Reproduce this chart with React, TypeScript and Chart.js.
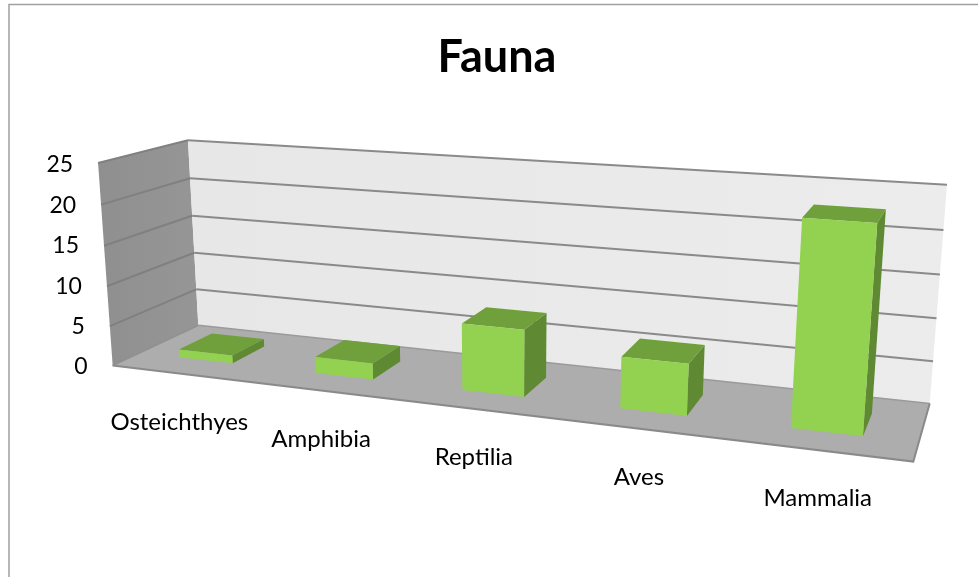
import React, { useEffect, useRef } from "react";
import { Chart, registerables, CategoryScale, LinearScale } from "chart.js";

const categories = ["Osteichthyes", "Amphibia", "Reptilia", "Aves", "Mammalia"];
const faunaValues = [1, 2, 8, 6, 23];
const yMax = 25;
const yStep = 5;
const seriesName = "Fauna";

// box corners of the 3D plot: [u, v, w] -> [x, y]
const corners: number[][] = [
  [0, 0, 0, 113, 366],
  [0, 0, 1, 98, 162],
  [0, 1, 0, 198, 325],
  [0, 1, 1, 188, 141],
  [1, 1, 0, 930, 403],
  [1, 1, 1, 947, 185],
  [1, 0, 0, 913, 462],
];
const BAR_V0 = 0.3;
const BAR_V1 = 0.7;

function solveCamera(): number[] {
  const A: number[][] = [];
  const b: number[] = [];
  for (const [X, Y, Z, x, y] of corners) {
    A.push([X, Y, Z, 1, 0, 0, 0, 0, -x * X, -x * Y, -x * Z]);
    b.push(x);
    A.push([0, 0, 0, 0, X, Y, Z, 1, -y * X, -y * Y, -y * Z]);
    b.push(y);
  }
  const n = 11;
  const M: number[][] = [];
  for (let i = 0; i < n; i++) {
    const row: number[] = [];
    for (let j = 0; j < n; j++) {
      let s = 0;
      for (let k = 0; k < A.length; k++) s += A[k][i] * A[k][j];
      row.push(s);
    }
    let r = 0;
    for (let k = 0; k < A.length; k++) r += A[k][i] * b[k];
    row.push(r);
    M.push(row);
  }
  for (let i = 0; i < n; i++) {
    let p = i;
    for (let r = i + 1; r < n; r++) if (Math.abs(M[r][i]) > Math.abs(M[p][i])) p = r;
    [M[i], M[p]] = [M[p], M[i]];
    for (let r = 0; r < n; r++) {
      if (r === i) continue;
      const f = M[r][i] / M[i][i];
      for (let c = i; c <= n; c++) M[r][c] -= f * M[i][c];
    }
  }
  return M.map((row, i) => row[n] / row[i]);
}
const cam = solveCamera();
function project(u: number, v: number, w: number): [number, number] {
  const d = cam[8] * u + cam[9] * v + cam[10] * w + 1;
  return [
    (cam[0] * u + cam[1] * v + cam[2] * w + cam[3]) / d,
    (cam[4] * u + cam[5] * v + cam[6] * w + cam[7]) / d,
  ];
}

function poly(ctx: CanvasRenderingContext2D, pts: [number, number][], fill?: string, stroke?: string, lw = 2) {
  ctx.beginPath();
  pts.forEach((p, i) => (i ? ctx.lineTo(p[0], p[1]) : ctx.moveTo(p[0], p[1])));
  if (fill) {
    ctx.closePath();
    ctx.fillStyle = fill;
    ctx.fill();
  }
  if (stroke) {
    ctx.strokeStyle = stroke;
    ctx.lineWidth = lw;
    ctx.stroke();
  }
}

class SlopedCategoryScale extends CategoryScale {
  static id = "sloped";
  static defaults = CategoryScale.defaults;
  _computeLabelArea() {
    return undefined;
  }
  _computeLabelItems(chartArea: any) {
    const items = super._computeLabelItems(chartArea);
    const n = items.length;
    items.forEach((it: any, i: number) => {
      const p = project((i + 0.5) / n, 0, 0);
      it.textOffset = 0;
      it.options.textAlign = "center";
      it.options.textBaseline = "middle";
      it.options.translation = [p[0] - 0.5, p[1] + 48.5];
    });
    return items;
  }
}

class SlopedLinearScale extends LinearScale {
  static id = "slopedLinear";
  static defaults = LinearScale.defaults;
  _computeLabelArea() {
    return undefined;
  }
  _computeLabelItems(chartArea: any) {
    const items = super._computeLabelItems(chartArea);
    items.forEach((it: any, i: number) => {
      const w = (this as any).ticks[i].value / (this as any).max;
      it.options.textAlign = "right";
      it.options.translation = [project(0, 0, w)[0] - 25, it.options.translation[1]];
    });
    return items;
  }
}

const scene3d = {
  id: "scene3d",
  beforeDraw(chart: any) {
    const { ctx, width, height } = chart;
    ctx.save();
    ctx.fillStyle = "#ffffff";
    ctx.fillRect(0, 0, width, height);
    ctx.strokeStyle = "#a0a0a0";
    ctx.lineWidth = 1.5;
    ctx.beginPath();
    ctx.moveTo(9, height);
    ctx.lineTo(9, 4.5);
    ctx.lineTo(width, 4.5);
    ctx.stroke();
    ctx.restore();
  },
  beforeDatasetsDraw(chart: any) {
    const { ctx, scales } = chart;
    const y = scales.y;
    ctx.save();
    const P = project;
    const wallGrad = ctx.createLinearGradient(98, 0, 198, 0);
    wallGrad.addColorStop(0, "#8f8f8f");
    wallGrad.addColorStop(1, "#969696");
    poly(ctx, [P(0, 0, 0), P(0, 0, 1), P(0, 1, 1), P(0, 1, 0)], wallGrad);
    const backGrad = ctx.createLinearGradient(188, 0, 947, 0);
    backGrad.addColorStop(0, "#e7e7e7");
    backGrad.addColorStop(1, "#ececec");
    poly(ctx, [P(0, 1, 0), P(0, 1, 1), P(1, 1, 1), P(1, 1, 0)], backGrad);
    poly(ctx, [P(0, 0, 0), P(0, 1, 0), P(1, 1, 0), P(1, 0, 0)], "#adadad");
    for (const t of y.ticks) {
      const w = t.value / y.max;
      if (t.value === 0) continue;
      poly(ctx, [P(0, 0, w), P(0, 1, w)], undefined, "#808080", 2);
      poly(ctx, [P(0, 1, w), P(1, 1, w)], undefined, "#8a8a8a", 2);
    }
    poly(ctx, [P(0, 1, 0), P(1, 1, 0)], undefined, "#9a9a9a", 1.5);
    poly(ctx, [P(0, 0, 0), P(1, 0, 0), P(1, 1, 0)], undefined, "#8a8a8a", 2);
    poly(ctx, [P(0, 0, 0), P(0, 1, 0)], undefined, "#8f8f8f", 1.5);
    ctx.restore();
  },
  beforeDatasetDraw(chart: any, args: any) {
    const { ctx, chartArea, scales } = chart;
    const meta = args.meta;
    const span = chartArea.right - chartArea.left;
    const h = scales.y.bottom - scales.y.top;
    ctx.save();
    meta.data.forEach((el: any) => {
      const u0 = (el.x - el.width / 2 - chartArea.left) / span;
      const u1 = (el.x + el.width / 2 - chartArea.left) / span;
      const w = (scales.y.bottom - el.y) / h;
      const P = project;
      poly(ctx, [P(u1, BAR_V0, 0), P(u1, BAR_V1, 0), P(u1, BAR_V1, w), P(u1, BAR_V0, w)], "#5f8a33");
      poly(ctx, [P(u0, BAR_V0, w), P(u0, BAR_V1, w), P(u1, BAR_V1, w), P(u1, BAR_V0, w)], "#6fa03c");
      poly(ctx, [P(u0, BAR_V0, 0), P(u0, BAR_V0, w), P(u1, BAR_V0, w), P(u1, BAR_V0, 0)], el.options.backgroundColor);
    });
    ctx.restore();
    return false;
  },
};

Chart.register(...registerables, SlopedCategoryScale, SlopedLinearScale);

export default function App() {
  const ref = useRef<HTMLCanvasElement>(null);
  useEffect(() => {
    const chart = new Chart(ref.current!, {
      type: "bar",
      data: {
        labels: categories,
        datasets: [
          {
            label: seriesName,
            data: faunaValues,
            backgroundColor: "#92d250",
            barPercentage: 1,
            categoryPercentage: 0.4,
          },
        ],
      },
      plugins: [scene3d],
      options: {
        responsive: false,
        animation: false,
        layout: { padding: { left: 0, right: 84, top: 4, bottom: 210 } },
        plugins: {
          legend: { display: false },
          tooltip: { enabled: false },
          title: {
            display: true,
            text: seriesName,
            color: "#000000",
            fullSize: false,
            font: { family: "Lato", size: 45, weight: "bold", lineHeight: 1.2 },
            padding: { top: 26, bottom: 81 },
          },
        },
        scales: {
          x: {
            type: "sloped",
            grid: { display: false },
            border: { display: false },
            ticks: { color: "#000000", font: { family: "Lato", size: 24 }, maxRotation: 0, autoSkip: false },
            afterFit(s: any) {
              s.height = 0;
            },
          },
          y: {
            type: "slopedLinear",
            min: 0,
            max: yMax,
            grid: { display: false },
            border: { display: false },
            ticks: { stepSize: yStep, color: "#000000", padding: 3, font: { family: "Lato", size: 23 } },
            afterFit(s: any) {
              s.width = 100;
            },
          },
        },
      },
    } as any);
    return () => chart.destroy();
  }, []);
  return (
    <div style={{ position: "fixed", left: 0, top: 0, width: 978, height: 577 }}>
      <canvas ref={ref} width={978} height={577} style={{ display: "block" }} />
    </div>
  );
}
